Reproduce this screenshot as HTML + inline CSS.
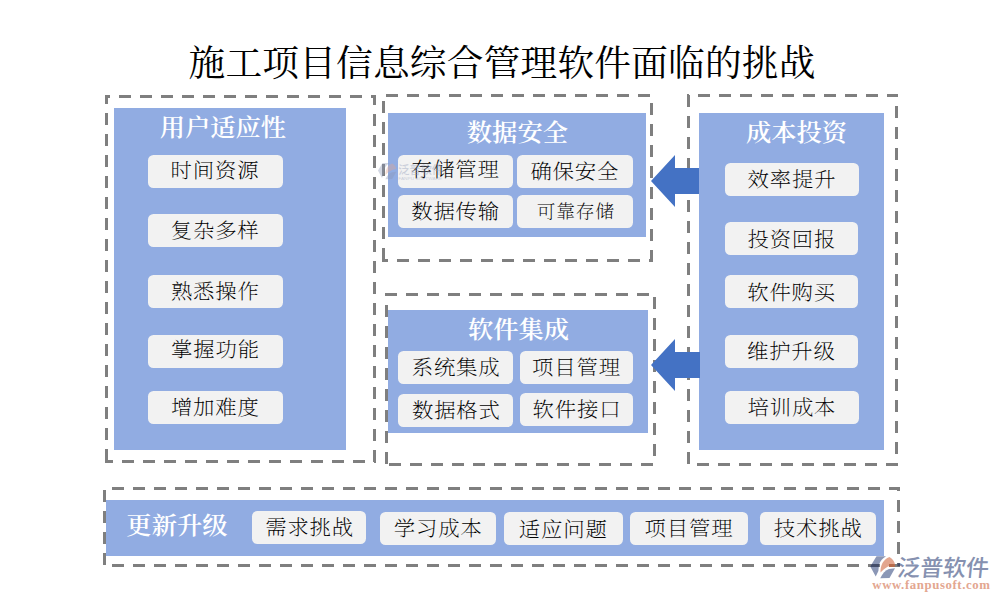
<!DOCTYPE html>
<html lang="zh-CN"><head><meta charset="utf-8"><title>施工项目信息综合管理软件面临的挑战</title>
<style>html,body{margin:0;padding:0;background:#fff;}body{width:1000px;height:600px;overflow:hidden;}svg{display:block;}.t{font-family:"Liberation Serif", "Noto Serif CJK SC", serif;fill:#000;text-anchor:middle;font-weight:400;}.h{font-family:"Liberation Serif", "Noto Serif CJK SC", serif;fill:#fff;font-weight:600;text-anchor:middle;}.p{font-family:"Liberation Serif", "Noto Serif CJK SC", serif;fill:#000;text-anchor:middle;font-weight:200;}.ls{font-family:"Liberation Sans", "Noto Sans CJK SC", sans-serif;}.lr{font-family:"Liberation Serif", "Noto Serif CJK SC", serif;}</style></head><body>
<svg width="1000" height="600" viewBox="0 0 1000 600">
<rect width="1000" height="600" fill="#fff"/>
<text class="t" id="title" x="502.1" y="75.6" font-size="36.7" letter-spacing="0.2">施工项目信息综合管理软件面临的挑战</text>
<g fill="none" stroke="#7f7f7f" stroke-width="3" stroke-dasharray="12 9">
<line x1="106.5" y1="95" x2="106.5" y2="463" stroke-dashoffset="3"/>
<line x1="105" y1="96.5" x2="376" y2="96.5" stroke-dashoffset="7"/>
<line x1="374.5" y1="95" x2="374.5" y2="463" stroke-dashoffset="2"/>
<line x1="105" y1="461.5" x2="376" y2="461.5" stroke-dashoffset="4"/>
</g>
<g fill="none" stroke="#7f7f7f" stroke-width="3" stroke-dasharray="12 9">
<line x1="383.5" y1="94" x2="383.5" y2="262" stroke-dashoffset="14"/>
<line x1="382" y1="95.5" x2="653" y2="95.5" stroke-dashoffset="17"/>
<line x1="651.5" y1="94" x2="651.5" y2="262" stroke-dashoffset="12"/>
<line x1="382" y1="260.5" x2="650" y2="260.5" stroke-dashoffset="6"/>
</g>
<g fill="none" stroke="#7f7f7f" stroke-width="3" stroke-dasharray="12 9">
<line x1="386.5" y1="293" x2="386.5" y2="466" stroke-dashoffset="9"/>
<line x1="385" y1="294.5" x2="656" y2="294.5" stroke-dashoffset="0"/>
<line x1="654.5" y1="293" x2="654.5" y2="464" stroke-dashoffset="17"/>
<line x1="385" y1="464.5" x2="656" y2="464.5" stroke-dashoffset="17"/>
</g>
<g fill="none" stroke="#7f7f7f" stroke-width="3" stroke-dasharray="12 9">
<line x1="688.5" y1="94" x2="688.5" y2="466" stroke-dashoffset="20"/>
<line x1="687" y1="95.5" x2="898" y2="95.5" stroke-dashoffset="10"/>
<line x1="896.5" y1="94" x2="896.5" y2="466" stroke-dashoffset="9"/>
<line x1="688" y1="464.5" x2="898" y2="464.5" stroke-dashoffset="12"/>
</g>
<g fill="none" stroke="#7f7f7f" stroke-width="3" stroke-dasharray="12 9">
<line x1="104.5" y1="487" x2="104.5" y2="567" stroke-dashoffset="18"/>
<line x1="103" y1="488.5" x2="900" y2="488.5" stroke-dashoffset="12"/>
<line x1="898.5" y1="487" x2="898.5" y2="567" stroke-dashoffset="8"/>
<line x1="103" y1="565.5" x2="900" y2="565.5" stroke-dashoffset="12"/>
</g>
<rect x="114" y="108" width="232" height="342" fill="#91ace2"/>
<rect x="388" y="113" width="258" height="124" fill="#91ace2"/>
<rect x="388" y="310" width="260" height="123" fill="#91ace2"/>
<rect x="699" y="113" width="185" height="337" fill="#91ace2"/>
<rect x="106" y="500" width="778" height="56" fill="#91ace2"/>
<path d="M651 181 L675 155 V168 H699 V194 H675 V207 Z" fill="#4472c4"/>
<path d="M651 365 L675 339 V352 H700 V378 H675 V391 Z" fill="#4472c4"/>
<rect x="148" y="155" width="135" height="33" rx="5.5" fill="#f2f2f2"/>
<rect x="148" y="214" width="135" height="33" rx="5.5" fill="#f2f2f2"/>
<rect x="148" y="275" width="135" height="33" rx="5.5" fill="#f2f2f2"/>
<rect x="148" y="335" width="135" height="33" rx="5.5" fill="#f2f2f2"/>
<rect x="148" y="391" width="135" height="33" rx="5.5" fill="#f2f2f2"/>
<rect x="398" y="155" width="115" height="33" rx="5.5" fill="#f2f2f2"/>
<rect x="517" y="155" width="116" height="33" rx="5.5" fill="#f2f2f2"/>
<rect x="398" y="195" width="115" height="33" rx="5.5" fill="#f2f2f2"/>
<rect x="517" y="195" width="116" height="33" rx="5.5" fill="#f2f2f2"/>
<rect x="398" y="351" width="115" height="33" rx="5.5" fill="#f2f2f2"/>
<rect x="520" y="351" width="113" height="33" rx="5.5" fill="#f2f2f2"/>
<rect x="398" y="394" width="115" height="33" rx="5.5" fill="#f2f2f2"/>
<rect x="520" y="393" width="113" height="33" rx="5.5" fill="#f2f2f2"/>
<rect x="725" y="163" width="134" height="33" rx="5.5" fill="#f2f2f2"/>
<rect x="725" y="222" width="133" height="33" rx="5.5" fill="#f2f2f2"/>
<rect x="725" y="275" width="133" height="33" rx="5.5" fill="#f2f2f2"/>
<rect x="725" y="335" width="133" height="33" rx="5.5" fill="#f2f2f2"/>
<rect x="725" y="391" width="134" height="33" rx="5.5" fill="#f2f2f2"/>
<rect x="252" y="511" width="114" height="33" rx="5.5" fill="#f2f2f2"/>
<rect x="380" y="512" width="116" height="33" rx="5.5" fill="#f2f2f2"/>
<rect x="504" y="512" width="119" height="33" rx="5.5" fill="#f2f2f2"/>
<rect x="630" y="512" width="118" height="33" rx="5.5" fill="#f2f2f2"/>
<rect x="760" y="512" width="116" height="33" rx="5.5" fill="#f2f2f2"/>
<text class="p" id="p0" transform="translate(215.02 177.87) scale(1 0.97)" font-size="21.4" letter-spacing="0.8">时间资源</text>
<text class="p" id="p1" transform="translate(215.14 238.47) scale(1 0.97)" font-size="21.4" letter-spacing="0.8">复杂多样</text>
<text class="p" id="p2" transform="translate(215.28 298.97) scale(1 0.97)" font-size="21.4" letter-spacing="0.8">熟悉操作</text>
<text class="p" id="p3" transform="translate(215.52 356.84) scale(1 0.97)" font-size="21.4" letter-spacing="0.8">掌握功能</text>
<text class="p" id="p4" transform="translate(215.28 415.09) scale(1 0.97)" font-size="21.4" letter-spacing="0.8">增加难度</text>
<text class="p" id="p5" transform="translate(455.36 176.95) scale(1 0.97)" font-size="21.4" letter-spacing="0.8">存储管理</text>
<text class="p" id="p6" transform="translate(574.78 179.47) scale(1 0.97)" font-size="21.4" letter-spacing="0.8">确保安全</text>
<text class="p" id="p7" transform="translate(455.61 219.42) scale(1 0.97)" font-size="21.4" letter-spacing="0.8">数据传输</text>
<text class="p" id="p8" transform="translate(575.75 218.44) scale(1 0.97)" font-size="18.8" letter-spacing="0.7">可靠存储</text>
<text class="p" id="p9" transform="translate(456.10 375.00) scale(1 0.97)" font-size="21.4" letter-spacing="0.8">系统集成</text>
<text class="p" id="p10" transform="translate(576.49 375.00) scale(1 0.97)" font-size="21.4" letter-spacing="0.8">项目管理</text>
<text class="p" id="p11" transform="translate(456.35 417.85) scale(1 0.97)" font-size="21.4" letter-spacing="0.8">数据格式</text>
<text class="p" id="p12" transform="translate(577.02 416.75) scale(1 0.97)" font-size="21.4" letter-spacing="0.8">软件接口</text>
<text class="p" id="p13" transform="translate(792.02 187.47) scale(1 0.97)" font-size="21.4" letter-spacing="0.8">效率提升</text>
<text class="p" id="p14" transform="translate(791.83 246.77) scale(1 0.97)" font-size="21.4" letter-spacing="0.8">投资回报</text>
<text class="p" id="p15" transform="translate(791.58 299.68) scale(1 0.97)" font-size="21.4" letter-spacing="0.8">软件购买</text>
<text class="p" id="p16" transform="translate(791.33 359.42) scale(1 0.97)" font-size="21.4" letter-spacing="0.8">维护升级</text>
<text class="p" id="p17" transform="translate(791.89 414.97) scale(1 0.97)" font-size="21.4" letter-spacing="0.8">培训成本</text>
<text class="p" id="p18" transform="translate(309.61 535.16) scale(1 0.97)" font-size="21.4" letter-spacing="0.8">需求挑战</text>
<text class="p" id="p19" transform="translate(438.24 536.28) scale(1 0.97)" font-size="21.4" letter-spacing="0.8">学习成本</text>
<text class="p" id="p20" transform="translate(563.24 536.52) scale(1 0.97)" font-size="21.4" letter-spacing="0.8">适应问题</text>
<text class="p" id="p21" transform="translate(688.97 536.35) scale(1 0.97)" font-size="21.4" letter-spacing="0.8">项目管理</text>
<text class="p" id="p22" transform="translate(818.20 535.97) scale(1 0.97)" font-size="21.4" letter-spacing="0.8">技术挑战</text>
<text class="h" id="h0" transform="translate(222.90 136.39) scale(1 0.93)" font-size="25.3">用户适应性</text>
<text class="h" id="h1" transform="translate(517.41 141.45) scale(1 0.93)" font-size="25.3">数据安全</text>
<text class="h" id="h2" transform="translate(518.47 338.29) scale(1 0.93)" font-size="25.3">软件集成</text>
<text class="h" id="h3" transform="translate(796.57 141.30) scale(1 0.93)" font-size="25.3">成本投资</text>
<text class="h" id="h4" transform="translate(176.95 533.94) scale(1 0.93)" font-size="25.3">更新升级</text>
<defs><clipPath id="c1"><path d="M10.5 4.25 H20 C16.5 6.5 14.3 9 13.5 11.5 C12.7 14.5 12.6 17 12.4 19 L9.75 24.5 L4.25 14.5 Z"/></clipPath><clipPath id="c2"><path d="M23.5 5 C26.5 6.5 28.5 9.5 29 12.5 C24 12.8 19 15.5 14.5 20.5 C14.3 13.5 17 7.5 23.5 5 Z"/></clipPath></defs>
<g transform="translate(866 552)"><path d="M10.5 4.25 H20 C16.5 6.5 14.3 9 13.5 11.5 C12.7 14.5 12.6 17 12.4 19 L9.75 24.5 L4.25 14.5 Z" fill="#8b97b6"/><path d="M23.5 5 C26.5 6.5 28.5 9.5 29 12.5 C24 12.8 19 15.5 14.5 20.5 C14.3 13.5 17 7.5 23.5 5 Z" fill="#e3a68f"/><path d="M14.25 26.25 C16.5 21.5 19.5 18 23 16.9 L29 16.25 L23.5 26 Z" fill="#8b97b6"/><rect x="2" y="12" width="12" height="3" fill="#434d6b" clip-path="url(#c1)"/><rect x="23" y="12" width="5.8" height="3" fill="#b76b4c"/></g>
<g opacity="0.99">
<text id="lg1" transform="translate(896.4 576.2) skewX(-6)" font-size="23" font-weight="500" fill="#8590b0" class="ls">泛普软件</text>
<rect x="897.4" y="563.2" width="2.6" height="3" fill="#434d6b"/>
<text id="lg2" x="872.3" y="588.7" font-size="12.8" font-weight="700" fill="#e3a68f" textLength="117.6" lengthAdjust="spacing" class="lr">www.fanpusoft.com</text>
</g>
<g opacity="0.38">
<g transform="translate(374.8 159.8) scale(0.74)"><path d="M10.5 4.25 H20 C16.5 6.5 14.3 9 13.5 11.5 C12.7 14.5 12.6 17 12.4 19 L9.75 24.5 L4.25 14.5 Z" fill="#8b97b6"/><path d="M23.5 5 C26.5 6.5 28.5 9.5 29 12.5 C24 12.8 19 15.5 14.5 20.5 C14.3 13.5 17 7.5 23.5 5 Z" fill="#e3a68f"/><path d="M14.25 26.25 C16.5 21.5 19.5 18 23 16.9 L29 16.25 L23.5 26 Z" fill="#8b97b6"/></g>
<text x="398.3" y="174" font-size="11.2" font-weight="500" fill="#8b97b6" class="ls">泛普软件</text>
<text x="398.3" y="180.2" font-size="4.3" fill="#8b97b6" textLength="44" lengthAdjust="spacingAndGlyphs" class="ls">FANPU SOFTWARE</text>
</g>
</svg></body></html>
